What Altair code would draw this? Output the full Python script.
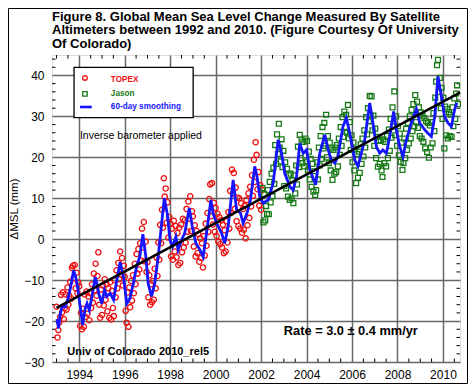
import altair as alt
import pandas as pd

TITLE_LINES = [
    "Figure 8. Global Mean Sea Level Change Measured By Satellite",
    "Altimeters between 1992 and 2010. (Figure Courtesy Of University",
    "Of Colorado)",
]

X_TICKS = [1994, 1996, 1998, 2000, 2002, 2004, 2006, 2008, 2010]
Y_TICKS = [-30, -20, -10, 0, 10, 20, 30, 40]
X_MINOR = [1993.0, 1993.5, 1994.5, 1995.0, 1995.5, 1996.5, 1997.0, 1997.5, 1998.5,
           1999.0, 1999.5, 2000.5, 2001.0, 2001.5, 2002.5, 2003.0, 2003.5, 2004.5,
           2005.0, 2005.5, 2006.5, 2007.0, 2007.5, 2008.5, 2009.0, 2009.5, 2010.5]
Y_MINOR = [-28, -26, -24, -22, -18, -16, -14, -12, -8, -6, -4, -2, 2, 4, 6, 8,
           12, 14, 16, 18, 22, 24, 26, 28, 32, 34, 36, 38, 42, 44]

# TOPEX samples (mm), one every 0.04 yr starting at Jan 1 of each year
TOPEX_STEP = 0.04
TOPEX_1993 = [-16.5, -24.0, -22.2, -20.3, -19.0, -13.6, -17.9, -13.0, -19.5, -16.8, -13.5, -17.2, -11.8,
              -16.0, -13.8, -10.4, -14.5, -7.0, -6.5, -9.5, -6.3, -12.0, -8.2, -13.2, -10.6]
TOPEX_1994 = [-11.5, -21.2, -18.0, -22.0, -17.0, -21.4, -13.5, -19.0, -12.8, -18.2, -14.0, -19.8, -13.2,
              -16.8, -11.0, -15.5, -8.4, -12.5, -6.0, -13.8, -9.0, -3.2, -16.0, -19.2, -12.3]
TOPEX_1995 = [-18.5, -11.3, -16.2, -9.8, -14.8, -11.0, -17.6, -12.0, -19.2, -10.5, -19.6, -12.6, -16.8,
              -18.8, -10.0, -14.2, -7.6, -12.0, -5.8, -9.8, -3.0, -8.6, -4.6, -11.3, -6.5]
TOPEX_1996 = [-9.2, -17.5, -20.4, -13.0, -21.4, -11.8, -16.6, -10.2, -15.0, -8.8, -13.2, -6.0, -11.0,
              -3.6, -8.4, -2.4, -7.4, -1.0, -5.2, 2.6, -2.0, 4.2, -5.4, -0.6, -8.0]
TOPEX_1997 = [-5.6, -14.2, -8.8, -16.0, -11.0, -15.4, -10.2, -14.8, -7.2, -12.0, -4.5, -9.0, -0.8,
              -5.0, 3.5, -1.0, 7.2, 2.8, 14.9, 10.4, 12.4, 4.0, 9.0, 0.4, 5.4]
TOPEX_1998 = [3.8, -4.2, 2.6, -5.0, 4.5, -3.0, 3.2, -4.4, 1.5, -6.3, 2.8, -5.8, 3.6,
              -3.2, 5.0, -2.0, 4.6, -0.8, 7.4, 1.8, 9.2, 5.0, 10.5, 2.0, 6.8]
TOPEX_1999 = [5.6, -1.8, 3.4, -4.2, 2.0, -3.4, 1.2, -5.5, 0.2, -4.6, -1.0, -6.9, 0.8,
              -4.0, 3.8, -1.6, 6.4, 1.8, 9.8, 13.4, 5.6, 13.7, 3.6, 8.9, 1.8]
TOPEX_2000 = [7.6, 0.8, 6.2, -0.6, 5.4, -1.2, 4.6, -2.0, 3.5, -3.4, 2.2, -3.0, 4.4,
              -0.8, 6.6, 2.6, 11.8, 6.4, 17.0, 11.2, 16.2, 7.4, 12.6, 4.4, 10.2]
TOPEX_2001 = [3.2, 10.0, 2.6, 8.8, 1.6, 7.4, 2.3, 8.2, 0.2, 9.6, 3.4, 11.2, 5.2,
              12.8, 8.0, 15.6, 10.6, 19.4, 14.0, 23.7, 20.6, 12.2, 16.4, 8.2, 13.2]
TOPEX_2002 = [7.2, 12.0]

# Jason samples (mm), one every 0.04 yr
JASON_STEP = 0.04
JASON_2002 = [12.5, 4.1, 11.0, 4.6, 8.1, 6.2, 12.0, 6.1, 14.0, 9.0, 16.0, 10.5, 17.5, 13.5, 23.0,
              18.4, 25.6, 20.8, 28.2, 22.4, 19.0, 24.4, 17.6, 21.6]
JASON_2003 = [13.0, 18.8, 12.4, 17.2, 10.4, 15.6, 9.6, 16.0, 10.0, 14.4, 8.8, 15.6, 11.2, 18.0,
              13.4, 22.6, 17.6, 25.5, 19.8, 24.3, 18.6, 23.8, 17.8, 24.6, 19.0]
JASON_2004 = [24.0, 16.8, 21.4, 14.6, 19.6, 12.8, 18.4, 11.6, 16.6, 10.8, 12.0, 18.8, 14.6, 22.4,
              18.0, 25.2, 19.6, 27.4, 22.2, 28.4, 22.8, 30.4, 20.0, 25.2, 18.6]
JASON_2005 = [23.6, 16.8, 22.2, 14.5, 21.8, 16.0, 22.4, 16.4, 23.0, 17.8, 24.6, 20.6, 27.4, 22.8,
              29.8, 25.0, 31.2, 26.2, 30.4, 26.0, 32.8, 24.6, 28.6, 21.8, 25.4]
JASON_2006 = [18.8, 23.6, 16.8, 22.0, 13.7, 20.8, 15.0, 21.4, 16.2, 23.2, 18.4, 24.6, 20.2, 26.6,
              22.4, 29.8, 25.6, 32.0, 28.8, 35.0, 30.2, 34.9, 26.6, 30.2, 22.8]
JASON_2007 = [27.0, 19.8, 25.0, 17.7, 24.0, 18.4, 24.2, 16.8, 15.2, 24.4, 18.6, 23.8, 17.8, 25.2,
              19.8, 26.8, 21.6, 29.4, 24.8, 32.2, 27.6, 36.1, 25.4, 30.0, 22.8]
JASON_2008 = [27.6, 20.5, 25.8, 18.9, 23.6, 16.9, 18.6, 24.6, 19.8, 27.0, 21.8, 28.4, 23.4, 30.0,
              24.6, 31.6, 26.4, 33.0, 27.6, 35.2, 28.6, 33.6, 27.2, 32.2, 25.2]
JASON_2009 = [31.0, 24.6, 30.2, 23.8, 29.6, 22.2, 28.8, 21.3, 28.4, 19.9, 27.8, 22.4, 28.6, 23.4,
              30.8, 26.4, 34.6, 38.5, 42.5, 43.8, 36.0, 39.4, 32.0, 37.0, 29.4]
JASON_2010 = [34.6, 22.2, 32.4, 25.4, 31.8, 24.6, 31.0, 25.2, 30.4, 25.0, 32.2, 27.6, 34.4, 29.4,
              35.6, 37.6, 33.0]

# 60-day smoothing curve
SMOOTH_YEARS = [1993.02, 1993.09, 1993.14, 1993.24, 1993.39, 1993.53, 1993.65, 1993.75, 1993.83, 1993.90,
                1994.00, 1994.08, 1994.15, 1994.26, 1994.34, 1994.44, 1994.56, 1994.70, 1994.78, 1994.85,
                1994.99, 1995.11, 1995.21, 1995.36, 1995.51, 1995.65, 1995.80, 1995.94, 1996.09, 1996.23,
                1996.38, 1996.52, 1996.66, 1996.80, 1996.86, 1996.93, 1997.03, 1997.18, 1997.32, 1997.47,
                1997.61, 1997.74, 1997.87, 1997.99, 1998.10, 1998.25, 1998.35, 1998.50, 1998.64, 1998.84,
                1998.97, 1999.13, 1999.31, 1999.45, 1999.60, 1999.79, 1999.89, 2000.04, 2000.26, 2000.40,
                2000.55, 2000.77, 2000.92, 2001.09, 2001.21, 2001.38, 2001.53, 2001.72, 2001.82, 2001.94,
                2002.09, 2002.31, 2002.53, 2002.75, 2002.90, 2003.04, 2003.26, 2003.41, 2003.56, 2003.70,
                2003.85, 2004.00, 2004.14, 2004.40, 2004.58, 2004.80, 2004.95, 2005.09, 2005.24, 2005.38,
                2005.60, 2005.75, 2005.90, 2006.12, 2006.26, 2006.41, 2006.56, 2006.78, 2006.92, 2007.07,
                2007.22, 2007.36, 2007.51, 2007.66, 2007.83, 2007.95, 2008.10, 2008.24, 2008.39, 2008.61,
                2008.83, 2008.98, 2009.20, 2009.34, 2009.49, 2009.64, 2009.78, 2009.93, 2010.07, 2010.22,
                2010.37, 2010.51, 2010.61]
SMOOTH_MSL = [-19.5, -21.8, -18.9, -16.5, -16.5, -14.0, -10.8, -7.6, -9.0, -10.8,
              -14.8, -18.0, -21.0, -16.9, -15.7, -17.3, -14.0, -9.2, -11.0, -13.2,
              -15.7, -12.4, -14.0, -13.2, -14.8, -10.0, -5.6, -9.1, -15.7, -14.4,
              -10.8, -6.7, -4.3, 1.2, -1.5, -4.3, -10.8, -14.0, -10.8, -4.3,
              3.1, 10.0, 6.3, -0.2, -1.8, 0.6, -2.6, -0.2, 1.5, 7.6,
              3.1, -1.0, -2.6, -4.3, 1.5, 9.6, 6.3, 3.9, 1.5, -1.0,
              3.1, 14.5, 7.2, 6.4, 3.9, 6.4, 9.6, 17.8, 15.3, 10.4,
              8.8, 9.6, 13.7, 24.3, 21.0, 16.1, 12.9, 12.0, 15.3, 23.4,
              21.0, 21.8, 17.0, 13.3, 21.0, 25.5, 21.8, 19.4, 18.6, 20.2,
              27.5, 29.6, 25.9, 19.4, 17.8, 21.0, 24.3, 33.3, 28.4, 22.6,
              21.0, 21.8, 21.0, 25.1, 31.2, 26.7, 22.6, 20.2, 24.3, 28.4,
              31.8, 28.4, 26.7, 25.9, 25.1, 30.0, 39.8, 34.9, 30.0, 28.4,
              27.5, 31.6, 33.3]

TREND_YEARS = [1993.0, 2010.75]
TREND_MSL = [-16.8, 35.8]

LEGEND_BOX = {"x1": 1993.77, "x2": 1999.01, "y1": 42.0, "y2": 29.7}
LEGEND_LABELS = ["TOPEX", "Jason", "60-day smoothing"]

FONT = "Liberation Sans"
RED = "#ee1111"
GREEN = "#167a16"
BLUE = "#1414ff"
W, H = 408, 307
PAD = {"left": 44, "top": 47, "right": 8, "bottom": 22}


def series(blocks, first_offsets, step):
    rows = []
    for yr, vals in blocks.items():
        for k, v in enumerate(vals):
            rows.append({"year": yr + first_offsets.get(yr, 0.0) + k * step, "msl": v})
    return pd.DataFrame(rows)


topex_df = series({1993: TOPEX_1993, 1994: TOPEX_1994, 1995: TOPEX_1995, 1996: TOPEX_1996,
                   1997: TOPEX_1997, 1998: TOPEX_1998, 1999: TOPEX_1999, 2000: TOPEX_2000,
                   2001: TOPEX_2001, 2002: TOPEX_2002}, {}, TOPEX_STEP)
jason_df = series({2002: JASON_2002, 2003: JASON_2003, 2004: JASON_2004, 2005: JASON_2005,
                   2006: JASON_2006, 2007: JASON_2007, 2008: JASON_2008, 2009: JASON_2009,
                   2010: JASON_2010},
                  {2002: 0.06, 2003: 0.02, 2004: 0.02, 2005: 0.02, 2006: 0.02, 2007: 0.02,
                   2008: 0.02, 2009: 0.02, 2010: 0.02}, JASON_STEP)
smooth_df = pd.DataFrame({"year": SMOOTH_YEARS, "msl": SMOOTH_MSL})
trend_df = pd.DataFrame({"year": TREND_YEARS, "msl": TREND_MSL})

xs = alt.Scale(domain=[1992.8, 2010.75], nice=False, zero=False)
ys = alt.Scale(domain=[-30, 45], nice=False, zero=False)
AX_X = alt.Axis(values=X_TICKS, format="d", grid=True, gridColor="#676767", gridWidth=1.5,
                domain=False, ticks=False, labelFont=FONT, labelFontSize=12,
                labelColor="black", labelPadding=7)
AX_Y = alt.Axis(values=Y_TICKS, grid=True, gridColor="#676767", gridWidth=1.5,
                domain=False, ticks=False, labelFont=FONT, labelFontSize=12,
                labelColor="black", labelPadding=8, titleFont=FONT,
                titleFontSize=11.5, titleFontWeight="normal", titleColor="black",
                titlePadding=4)
Y_TITLE = "\u0394MSL (mm)"


def X(field="year"):
    return alt.X(f"{field}:Q", scale=xs, axis=AX_X, title=None)


def Y(field="msl"):
    return alt.Y(f"{field}:Q", scale=ys, axis=AX_Y, title=Y_TITLE)


xminor = pd.DataFrame({"year": X_MINOR})
yminor = pd.DataFrame({"msl": Y_MINOR})
tick_style = dict(color="black", strokeWidth=1)
ticks = [
    alt.Chart(xminor).mark_rule(**tick_style).encode(x=X(), y=alt.value(H), y2=alt.value(H - 3.5)),
    alt.Chart(xminor).mark_rule(**tick_style).encode(x=X(), y=alt.value(0), y2=alt.value(3.5)),
    alt.Chart(yminor).mark_rule(**tick_style).encode(y=Y(), x=alt.value(0), x2=alt.value(3.5)),
    alt.Chart(yminor).mark_rule(**tick_style).encode(y=Y(), x=alt.value(W), x2=alt.value(W - 3.5)),
]

topex = alt.Chart(topex_df).mark_point(shape="circle", filled=False, color=RED, size=28,
                                       strokeWidth=1.3, opacity=1).encode(x=X(), y=Y())
jason = alt.Chart(jason_df).mark_point(shape="square", filled=False, color=GREEN, size=24,
                                       strokeWidth=1.3, opacity=1).encode(x=X(), y=Y())
smooth = alt.Chart(smooth_df).mark_line(color=BLUE, strokeWidth=2.8).encode(x=X(), y=Y())
trend = alt.Chart(trend_df).mark_line(color="black", strokeWidth=2.6).encode(x=X(), y=Y())

# legend box
box_df = pd.DataFrame([LEGEND_BOX])
shadow = alt.Chart(box_df).mark_rect(color="black", xOffset=1.5, yOffset=1.5).encode(
    x=X("x1"), x2="x2:Q", y=Y("y1"), y2="y2:Q")
box = alt.Chart(box_df).mark_rect(fill="white", stroke="black", strokeWidth=1.3).encode(
    x=X("x1"), x2="x2:Q", y=Y("y1"), y2="y2:Q")
leg_circle = alt.Chart(pd.DataFrame({"year": [1994.25], "msl": [39.4]})).mark_point(
    shape="circle", filled=False, color=RED, size=22, strokeWidth=1.3, opacity=1).encode(x=X(), y=Y())
leg_square = alt.Chart(pd.DataFrame({"year": [1994.25], "msl": [35.5]})).mark_point(
    shape="square", filled=False, color=GREEN, size=20, strokeWidth=1.3, opacity=1).encode(x=X(), y=Y())
leg_line = alt.Chart(pd.DataFrame({"year": [1994.03], "year2": [1994.55], "msl": [32.3]})).mark_rule(
    color=BLUE, strokeWidth=2.6).encode(x=X(), x2="year2:Q", y=Y())


def label(text, year, msl, size, weight, color):
    return alt.Chart(pd.DataFrame({"year": [year], "msl": [msl], "t": [text]})).mark_text(
        align="left", baseline="alphabetic", font=FONT, fontSize=size, fontWeight=weight,
        color=color).encode(x=X(), y=Y(), text="t:N")


texts = [
    label(LEGEND_LABELS[0], 1995.39, 38.4, 8.2, "bold", RED),
    label(LEGEND_LABELS[1], 1995.39, 35.1, 8.2, "bold", GREEN),
    label(LEGEND_LABELS[2], 1995.39, 31.9, 8.2, "bold", BLUE),
    label("Inverse barometer applied", 1994.03, 24.5, 10.5, "normal", "black"),
    label("Rate = 3.0 \u00b1 0.4 mm/yr", 2003.0, -23.3, 12.8, "bold", "black"),
    label("Univ of Colorado 2010_rel5", 1993.47, -28.3, 11, "bold", "black"),
]

# thin border round the whole figure
frame = alt.Chart(pd.DataFrame({"a": [0]})).mark_rect(
    filled=False, stroke="black", strokeWidth=1).encode(
    x=alt.value(-PAD["left"] + 0.5), x2=alt.value(W + PAD["right"] - 0.5),
    y=alt.value(-PAD["top"] + 0.5), y2=alt.value(H + PAD["bottom"] - 0.5))

chart = alt.layer(
    *ticks, topex, jason, smooth, trend, shadow, box, leg_circle, leg_square, leg_line, *texts, frame,
).properties(
    width=W, height=H,
    title=alt.TitleParams(text=TITLE_LINES, anchor="start", frame="group", font=FONT,
                          fontSize=13, fontWeight="bold", color="black", lineHeight=13.5,
                          offset=4.5 - PAD["top"]),
    autosize=alt.AutoSizeParams(type="none"),
    padding=PAD,
).configure_view(stroke="black", strokeWidth=1.5).configure(background="white")

chart.save("out.html", embed_options={"renderer": "svg", "actions": False})
